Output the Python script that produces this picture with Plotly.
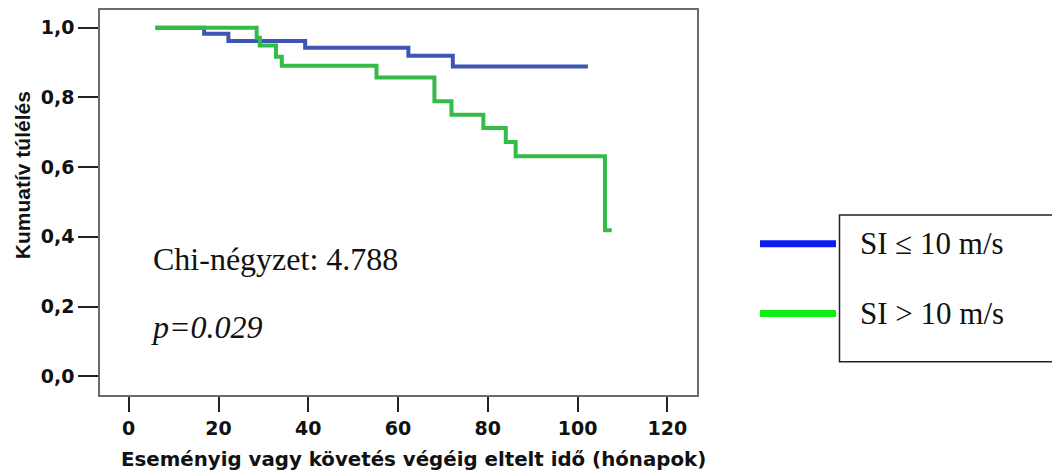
import plotly.graph_objects as go

# Kaplan-Meier step data (months, cumulative survival)
blue_t = [6.0, 16.8, 22.2, 39.3, 62.3, 72.2, 102.3]
blue_s = [1.0, 0.983, 0.962, 0.943, 0.920, 0.889, 0.889]

green_t = [5.9, 28.5, 29.2, 32.8, 34.1, 55.2, 68.1, 71.9, 79.0, 84.0, 86.2, 106.1, 107.6]
green_s = [1.0, 0.971, 0.949, 0.917, 0.891, 0.857, 0.789, 0.750, 0.712, 0.672, 0.631, 0.419, 0.419]

x_ticks = [0, 20, 40, 60, 80, 100, 120]
y_ticks = [0.0, 0.2, 0.4, 0.6, 0.8, 1.0]
y_tick_labels = ["0,0", "0,2", "0,4", "0,6", "0,8", "1,0"]

legend_labels = ["SI \u2264 10 m/s", "SI > 10 m/s"]
legend_colors = ["#0a1cf0", "#10ee10"]

fig = go.Figure()
fig.add_trace(go.Scatter(x=blue_t, y=blue_s, mode="lines", line=dict(shape="hv", color="#3d56b2", width=4),
                         showlegend=False))
fig.add_trace(go.Scatter(x=green_t, y=green_s, mode="lines", line=dict(shape="hv", color="#35bb47", width=4),
                         showlegend=False))

W, H = 1052, 472
L, T = 100, 8
R = W - 697
B = H - 395
pw = W - L - R
ph = H - T - B

def px(xs):
    return (xs - L) / pw

def py(ys):
    return (H - B - ys) / ph

fig.update_layout(
    width=W, height=H,
    margin=dict(l=L, r=R, t=T, b=B, pad=0),
    plot_bgcolor="white", paper_bgcolor="white",
    xaxis=dict(range=[-6.4, 126.6], tickvals=x_ticks, ticktext=[str(v) for v in x_ticks],
               showgrid=False, zeroline=False, showline=True, linecolor="#6b6b6b", linewidth=1.5, mirror=True,
               ticks="outside", ticklen=15, tickwidth=2, tickcolor="#222",
               tickfont=dict(family="DejaVu Sans", size=19, color="#111", weight="bold")),
    yaxis=dict(range=[-0.054, 1.051], tickvals=y_ticks, ticktext=y_tick_labels,
               showgrid=False, zeroline=False, showline=True, linecolor="#6b6b6b", linewidth=1.5, mirror=True,
               ticks="outside", ticklen=20, tickwidth=2, tickcolor="#222",
               tickfont=dict(family="DejaVu Sans", size=19, color="#111", weight="bold")),
)

ann = []
ann.append(dict(text="Eseményig vagy követés végéig eltelt idő (hónapok)", x=px(413), y=py(460),
                xref="paper", yref="paper", showarrow=False, xanchor="center", yanchor="middle",
                font=dict(family="DejaVu Sans", size=19.8, color="#111", weight="bold")))
ann.append(dict(text="Kumuatív túlélés", x=px(22), y=py(174), textangle=-90,
                xref="paper", yref="paper", showarrow=False, xanchor="center", yanchor="middle",
                font=dict(family="Liberation Sans", size=21, color="#111", weight="bold")))
ann.append(dict(text="Chi-négyzet: 4.788", x=px(151), y=py(258),
                xref="paper", yref="paper", showarrow=False, xanchor="left", yanchor="middle",
                font=dict(family="Liberation Serif", size=32, color="#111")))
ann.append(dict(text="<i>p=0.029</i>", x=px(149), y=py(327),
                xref="paper", yref="paper", showarrow=False, xanchor="left", yanchor="middle",
                font=dict(family="Liberation Serif", size=32, color="#111")))

shapes = []
# legend box (runs off the right edge as in the reference)
shapes.append(dict(type="rect", xref="paper", yref="paper", x0=px(839.5), x1=px(1080), y0=py(361.5), y1=py(214),
                   line=dict(color="#222", width=1.5), fillcolor="rgba(0,0,0,0)"))
leg_y = [243, 313]
for lab, col, yy in zip(legend_labels, legend_colors, leg_y):
    shapes.append(dict(type="line", xref="paper", yref="paper", x0=px(760), x1=px(836), y0=py(yy), y1=py(yy),
                       line=dict(color=col, width=7)))
    ann.append(dict(text=lab, x=px(858), y=py(yy), xref="paper", yref="paper", showarrow=False,
                    xanchor="left", yanchor="middle",
                    font=dict(family="Liberation Serif", size=31, color="#111")))

fig.update_layout(annotations=ann, shapes=shapes)
fig.write_html("out.html", config={"displayModeBar": False},
               post_script="document.body.style.margin='0';document.body.style.overflow='hidden';")
